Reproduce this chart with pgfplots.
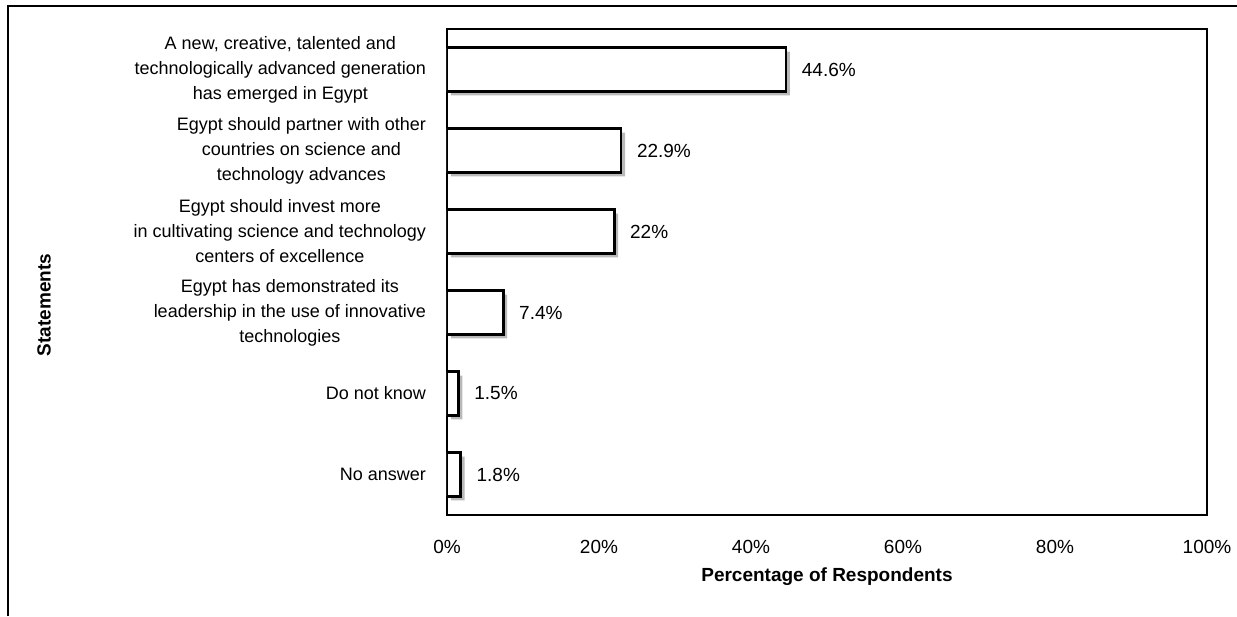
\documentclass[border=0pt]{standalone}
\usepackage{fontspec}
\setmainfont{Liberation Sans}
\usepackage{pgfplots}
\usepackage{pgfplotstable}
\pgfplotsset{compat=1.18}
\pgfplotstableread{
y v
0 1.8
1 1.5
2 7.4
3 22
4 22.9
5 44.6
}\datatable
\newcommand{\lblfont}{\fontsize{9}{12.5}\selectfont}
\newcommand{\numfont}{\fontsize{9.5}{11}\selectfont}
\begin{document}
\begin{tikzpicture}
\useasboundingbox (0,0) rectangle (618.5pt,308pt);
\draw[line width=1pt] (4pt,0) -- (4pt,305pt) -- (618.5pt,305pt);
\begin{axis}[
  at={(223.5pt,50.5pt)}, anchor=south west,
  scale only axis, width=380pt, height=243pt,
  xmin=0, xmax=100, ymin=-0.5, ymax=5.5,
  ytick={0,1,2,3,4,5},
  yticklabels={
    {No answer},
    {Do not know},
    {Egypt has demonstrated its\\leadership in the use of innovative\\technologies},
    {Egypt should invest more\\in cultivating science and technology\\centers of excellence},
    {Egypt should partner with other\\countries on science and\\technology advances},
    {A new, creative, talented and\\technologically advanced generation\\has emerged in Egypt}
  },
  xtick={0,20,40,60,80,100},
  xticklabel={\pgfmathprintnumber{\tick}\%},
  /pgf/number format/assume math mode=true,
  major tick length=0pt,
  axis line style={line width=0.9pt},
  yticklabel style={font=\lblfont, align=center, anchor=east, xshift=-7pt},
  xticklabel style={font=\numfont, anchor=center, yshift=-16pt},
  xlabel={Percentage of Respondents},
  xlabel style={font=\fontsize{9.5}{11}\selectfont\bfseries, at={(axis description cs:0.5,0)}, anchor=center, yshift=-31pt},
  ylabel={Statements},
  ylabel style={font=\fontsize{9.5}{11}\selectfont\bfseries, at={(axis description cs:-0.530,0.432)}, anchor=center},
]
\addplot[xbar, bar shift=0pt, bar width=0.54, draw=none, fill=gray!55, xshift=2pt, yshift=-2pt] table[x=v,y=y]{\datatable};
\addplot[xbar, bar shift=0pt, bar width=0.54, draw=black, line width=1.3pt, fill=white,
  point meta=x,
  nodes near coords={\pgfmathprintnumber{\pgfplotspointmeta}\%},
  nodes near coords style={font=\numfont, anchor=west, xshift=4pt, text=black}
] table[x=v,y=y]{\datatable};
\end{axis}
\end{tikzpicture}
\end{document}
